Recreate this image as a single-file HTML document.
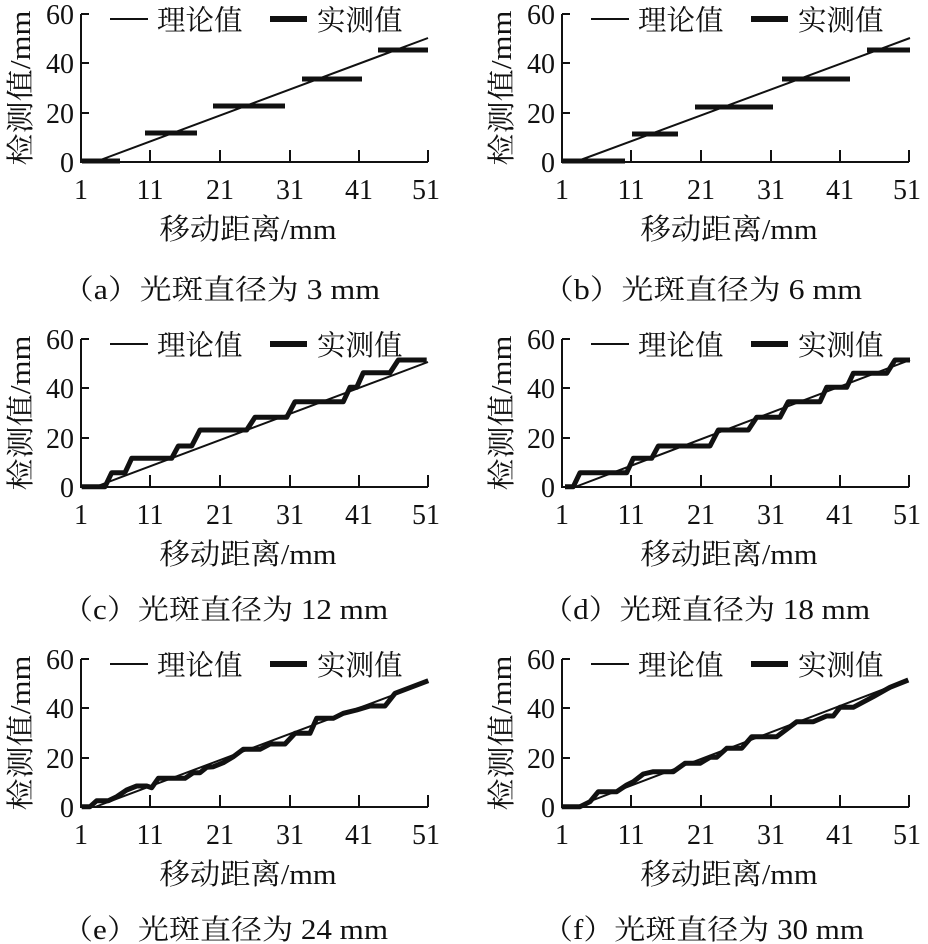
<!DOCTYPE html>
<html><head><meta charset="utf-8"><style>
html,body{margin:0;padding:0;background:#fff;}
svg{display:block;}
text{font-family:"Liberation Serif","Noto Serif CJK SC",serif;fill:#111;}
</style></head><body>
<svg width="928" height="944" viewBox="0 0 928 944" xmlns="http://www.w3.org/2000/svg">
<defs>
<g id="frame" stroke="#111" stroke-width="2" fill="none">
  <path d="M81,14 V162 H428"/>
  <path d="M81,14 h8 M81,63 h8 M81,113 h8"/>
  <path d="M150,162 v-12 M220,162 v-12 M290,162 v-12 M359,162 v-12 M428,162 v-12"/>
  <path d="M110,19 H148" stroke-width="2"/>
  <path d="M270,19 H307" stroke-width="6"/>
</g>
<g id="labels">
  <g font-size="28" text-anchor="end">
    <text x="74" y="24">60</text><text x="74" y="73">40</text><text x="74" y="123">20</text><text x="74" y="172">0</text>
  </g>
  <g font-size="28" text-anchor="middle">
    <text x="81" y="199">1</text><text x="150" y="199">11</text><text x="220" y="199">21</text><text x="290" y="199">31</text><text x="359" y="199">41</text><text x="426" y="199">51</text>
  </g>
  <text x="157" y="30" font-size="28.5">理论值</text>
  <text x="317" y="30" font-size="28.5">实测值</text>
  <text x="248" y="239" font-size="29" text-anchor="middle" textLength="177" lengthAdjust="spacingAndGlyphs">移动距离/mm</text>
  <text transform="translate(30,88) rotate(-90)" font-size="28" text-anchor="middle" textLength="155" lengthAdjust="spacingAndGlyphs">检测值/mm</text>
</g>
</defs>

<use href="#frame"/><use href="#labels"/>
<g transform="translate(481,0)"><use href="#frame"/><use href="#labels"/></g>
<g transform="translate(0,325)"><use href="#frame"/><use href="#labels"/></g>
<g transform="translate(481,325)"><use href="#frame"/><use href="#labels"/></g>
<g transform="translate(0,645)"><use href="#frame"/><use href="#labels"/></g>
<g transform="translate(481,645)"><use href="#frame"/><use href="#labels"/></g>

<g font-size="28">
<text x="62" y="299" textLength="318" lengthAdjust="spacingAndGlyphs">（a）光斑直径为 3 mm</text>
<text x="542" y="299" textLength="320" lengthAdjust="spacingAndGlyphs">（b）光斑直径为 6 mm</text>
<text x="62" y="619" textLength="326" lengthAdjust="spacingAndGlyphs">（c）光斑直径为 12 mm</text>
<text x="542" y="619" textLength="328" lengthAdjust="spacingAndGlyphs">（d）光斑直径为 18 mm</text>
<text x="62" y="939" textLength="326" lengthAdjust="spacingAndGlyphs">（e）光斑直径为 24 mm</text>
<text x="542" y="939" textLength="322" lengthAdjust="spacingAndGlyphs">（f）光斑直径为 30 mm</text>
</g>

<g stroke="#111" stroke-width="2" fill="none">
<path d="M95,162 L428,38"/>
<path d="M575,162 L910,38"/>
<path d="M95,487 L428,362"/>
<path d="M575,487 L910,360"/>
<path d="M95,807 L428,682"/>
<path d="M575,807 L908,680"/>
</g>

<g stroke="#111" stroke-width="5" fill="none" stroke-linejoin="round">
<path d="M82,161 H120 M145,133 H197 M213,106 H285 M302,79 H362 M378,50 H428"/>
<path d="M562,161 H625 M632,134 H678 M695,107 H773 M782,79 H850 M867,50 H910"/>
<path d="M81.7,486.7 L105,486.7 L111.7,472.7 L125,472.7 L131.7,458.3 L171.7,458.3 L178.3,446 L191.7,446 L200,430 L246.7,430 L255,417.3 L286.7,417.3 L295,401.7 L343.3,401.7 L350,387.3 L356.7,387.3 L363.3,372.7 L390,372.7 L398.3,360 L426.7,360"/>
<path d="M565,486.7 L573.3,486.7 L580,472.7 L626.7,472.7 L633.3,458.3 L651.7,458.3 L658.3,446 L710,446 L718.3,430 L748.3,430 L756.7,417.3 L780,417.3 L788.3,401.7 L820,401.7 L826.7,387.3 L846.7,387.3 L853.3,373.3 L886.7,373.3 L895,360 L910,360"/>
<path d="M81.7,806.7 L90,806.7 L96.7,800.7 L108.3,800.7 L116.7,796.7 L126.7,790 L136.7,786 L146.7,786 L151.7,787.7 L158.3,778.3 L185,778.3 L193.3,772.7 L200,772.7 L206.7,767.3 L213.3,766.7 L223.3,762.7 L233.3,756.7 L243.3,749.3 L260,749.3 L270,744 L285,744 L295,733.3 L310,733.3 L316.7,718.3 L333.3,718.3 L343.3,713.3 L356.7,710 L370,706 L385,706 L395,693.3 L428.3,680.7"/>
<path d="M561.7,806.7 L580,806.7 L590,801.7 L598.3,791.7 L616.7,791.7 L626.7,785 L633.3,781.7 L643.3,774 L653.3,771.7 L673.3,771.7 L685,763.3 L700,763.3 L710,757.3 L716.7,757.3 L726.7,748.3 L741.7,748.3 L751.7,736.7 L776.7,736.7 L786.7,729.3 L796.7,721.7 L813.3,721.7 L826.7,716 L833.3,716 L840,707.3 L853.3,707.3 L873.3,696.7 L890,687.3 L908.3,680"/>
</g>
</svg>
</body></html>
